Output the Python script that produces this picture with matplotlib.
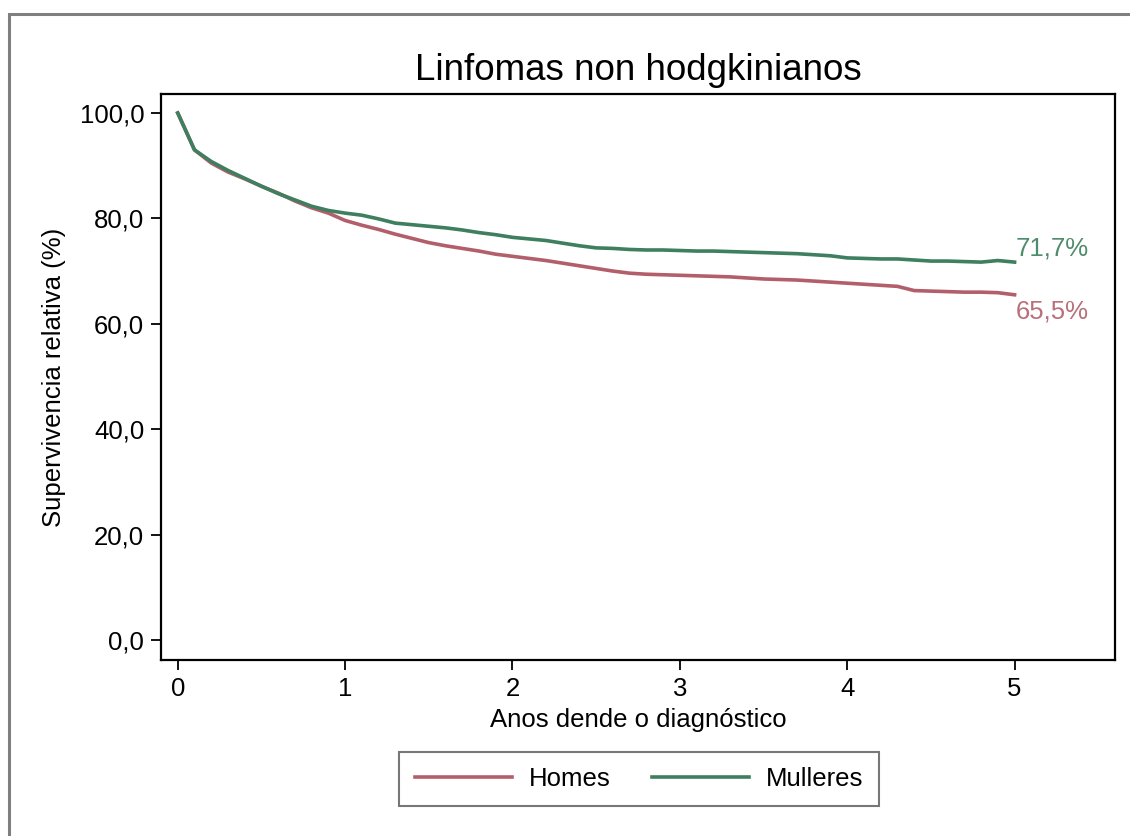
"""Relative survival curve: Linfomas non hodgkinianos."""
import matplotlib
matplotlib.use("Agg")
import matplotlib.pyplot as plt
from matplotlib.patches import Rectangle
from matplotlib.ticker import FuncFormatter

plt.rcParams["font.family"] = ["Liberation Sans", "DejaVu Sans"]

TITLE = "Linfomas non hodgkinianos"
YEARS = [i / 10 for i in range(51)]

HOMES = [100.0, 93.0, 90.5, 88.8, 87.5, 86.1, 84.8, 83.3, 82.0, 81.0,
         79.6, 78.7, 77.9, 77.0, 76.2, 75.4, 74.8, 74.3, 73.8, 73.2,
         72.8, 72.4, 72.0, 71.5, 71.0, 70.5, 70.0, 69.6, 69.4, 69.3,
         69.2, 69.1, 69.0, 68.9, 68.7, 68.5, 68.4, 68.3, 68.1, 67.9,
         67.7, 67.5, 67.3, 67.1, 66.3, 66.2, 66.1, 66.0, 66.0, 65.9,
         65.5]
MULLERES = [100.0, 93.0, 90.8, 89.1, 87.6, 86.1, 84.7, 83.5, 82.3, 81.5,
            81.0, 80.6, 79.9, 79.1, 78.8, 78.5, 78.2, 77.8, 77.3, 76.9,
            76.4, 76.1, 75.8, 75.3, 74.8, 74.4, 74.3, 74.1, 74.0, 74.0,
            73.9, 73.8, 73.8, 73.7, 73.6, 73.5, 73.4, 73.3, 73.1, 72.9,
            72.5, 72.4, 72.3, 72.3, 72.1, 71.9, 71.9, 71.8, 71.7, 72.0,
            71.7]
SERIES = ["Homes", "Mulleres"]
END_LABELS = ["65,5%", "71,7%"]
COLORS = ["#b35f6b", "#3e7f5f"]
LABEL_COLORS = ["#b8707a", "#4f8b6c"]

fig = plt.figure(figsize=(11.3, 8.36), dpi=100)
ax = fig.add_axes([161 / 1130, 1 - 660 / 836, (1115 - 161) / 1130, (660 - 94) / 836])

# outer frame (cut at right/bottom like the source image)
fig.patches.append(Rectangle((9 / 1130, -0.2), 1.5, 1.2 - 14 / 836,
                             transform=fig.transFigure, fill=False,
                             edgecolor="#7f7f7f", linewidth=2.2, clip_on=False))

for vals, name, color in zip([HOMES, MULLERES], SERIES, COLORS):
    ax.plot(YEARS, vals, color=color, linewidth=2.6, label=name,
            solid_joinstyle="round")

# end labels
ax.annotate(END_LABELS[1], (YEARS[-1], MULLERES[-1]), textcoords="offset points",
            xytext=(1, 10), ha="left", va="center", fontsize=18.5,
            color=LABEL_COLORS[1])
ax.annotate(END_LABELS[0], (YEARS[-1], HOMES[-1]), textcoords="offset points",
            xytext=(1, -12), ha="left", va="center", fontsize=18.5,
            color=LABEL_COLORS[0])

ax.set_xlim(-0.10, 5.60)
ax.set_ylim(-3.8, 103.6)
ax.set_xticks(range(6))
ax.set_yticks(range(0, 101, 20))
ax.yaxis.set_major_formatter(FuncFormatter(lambda v, p: f"{v:.1f}".replace(".", ",")))
ax.tick_params(direction="out", length=7, width=1.3, labelsize=18.5, pad=5)
for sp in ax.spines.values():
    sp.set_linewidth(1.6)

ax.set_title(TITLE, fontsize=26.5, pad=10)
ax.set_xlabel("Anos dende o diagnóstico", fontsize=18.5, labelpad=5)
ax.set_ylabel("Supervivencia relativa (%)", fontsize=18.5, labelpad=10)

leg = fig.legend(loc="center", bbox_to_anchor=(639 / 1130, 1 - 779 / 836),
                 ncol=2, fontsize=18.5, frameon=True, fancybox=False,
                 handlelength=3.8, columnspacing=1.6, handletextpad=0.65,
                 borderpad=0.6, borderaxespad=0, edgecolor="#555555")
leg.get_frame().set_linewidth(1.5)

fig.savefig("out.png", dpi=100)
